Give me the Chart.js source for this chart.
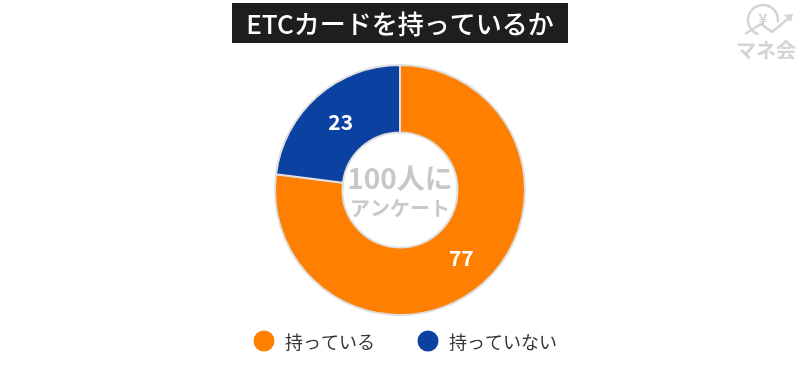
<!DOCTYPE html>
<html>
<head>
<meta charset="utf-8">
<script src="https://cdn.jsdelivr.net/npm/chart.js@4"></script>
<style>
  html, body { margin: 0; padding: 0; background: #fff; }
  .chart-container { position: relative; width: 800px; height: 390px; }
</style>
</head>
<body>
<div class="chart-container"><canvas id="pieChart"></canvas></div>
<script>
const categories = ['持っている', '持っていない'];
const values = [77, 23];
const colors = ['#FF7F00', '#0B41A0'];
const titleText = 'ETCカードを持っているか';
const centerLines = ['100人に', 'アンケート'];

const fontJP = '"Noto Sans CJK JP", "Noto Sans", sans-serif';

const decorPlugin = {
    id: 'decor',
    afterDraw(chart) {
        const ctx = chart.ctx;
        const meta = chart.getDatasetMeta(0);
        const arc0 = meta.data[0];
        const cx = arc0.x, cy = arc0.y;

        ctx.save();
        // title box
        ctx.fillStyle = '#1e1e1e';
        ctx.fillRect(232, 3, 336, 40);
        ctx.fillStyle = '#ffffff';
        ctx.font = '500 26px ' + fontJP;
        ctx.textAlign = 'center';
        ctx.textBaseline = 'middle';
        ctx.fillText(titleText, 400, 24);

        // slice values
        ctx.font = 'bold 21px ' + fontJP;
        meta.data.forEach((arc, i) => {
            const p = arc.tooltipPosition();
            ctx.fillStyle = '#ffffff';
            ctx.fillText(String(values[i]), p.x + 1, p.y);
        });

        // center text
        ctx.fillStyle = '#c8c8c8';
        ctx.font = 'bold 28px ' + fontJP;
        ctx.fillText(centerLines[0], cx, cy - 12);
        ctx.font = 'bold 20px ' + fontJP;
        ctx.fillText(centerLines[1], cx, cy + 18);

        // legend
        const legendX = [264, 428];
        ctx.font = '18px ' + fontJP;
        ctx.textAlign = 'left';
        categories.forEach((c, i) => {
            ctx.beginPath();
            ctx.arc(legendX[i], 341, 10.5, 0, Math.PI * 2);
            ctx.fillStyle = colors[i];
            ctx.fill();
            ctx.fillStyle = '#333333';
            ctx.fillText(c, legendX[i] + 21, 342);
        });

        // logo
        ctx.strokeStyle = '#d4d4d4';
        ctx.fillStyle = '#d4d4d4';
        ctx.lineWidth = 2.5;
        ctx.beginPath();
        ctx.arc(763, 20, 15, Math.PI * 0.6, Math.PI * 2.05);
        ctx.stroke();
        ctx.beginPath();
        ctx.moveTo(745, 34);
        ctx.lineTo(761, 24);
        ctx.lineTo(772, 32);
        ctx.lineTo(789, 18);
        ctx.stroke();
        ctx.beginPath();
        ctx.moveTo(793, 14);
        ctx.lineTo(784, 15);
        ctx.lineTo(791, 22);
        ctx.closePath();
        ctx.fill();
        ctx.font = 'bold 15px ' + fontJP;
        ctx.textAlign = 'center';
        ctx.fillText('¥', 763, 19);
        ctx.font = 'bold 20px ' + fontJP;
        ctx.fillText('マネ会', 766, 50);
        ctx.restore();
    }
};

document.addEventListener('DOMContentLoaded', function() {
    new Chart(document.getElementById('pieChart'), {
        type: 'doughnut',
        data: {
            labels: categories,
            datasets: [{
                data: values,
                backgroundColor: colors,
                borderColor: '#dedede',
                borderWidth: 2
            }]
        },
        options: {
            responsive: true,
            maintainAspectRatio: false,
            animation: false,
            cutout: '46%',
            layout: {
                padding: { top: 64, bottom: 74 }
            },
            plugins: {
                legend: { display: false },
                tooltip: { enabled: false }
            }
        },
        plugins: [decorPlugin]
    });
});
</script>
</body>
</html>
